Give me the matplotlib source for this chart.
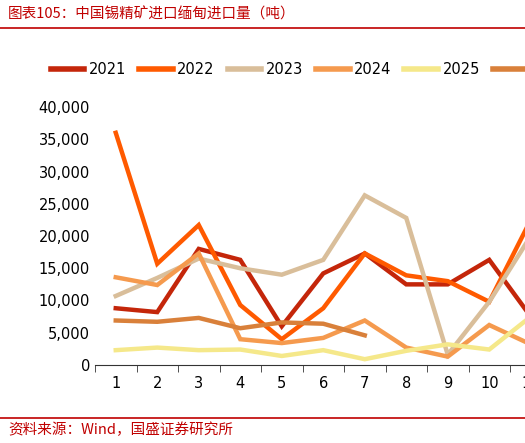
import matplotlib
matplotlib.use("Agg")
import matplotlib.pyplot as plt
from matplotlib.lines import Line2D
from matplotlib.ticker import FuncFormatter

plt.rcParams['font.family'] = ['DejaVu Sans', 'Noto Sans CJK SC']

months = list(range(1, 13))
s2021 = [8800, 8200, 18000, 16300, 6000, 14200, 17300, 12500, 12500, 16300, 7500]
s2022 = [36000, 15700, 21700, 9300, 4000, 8800, 17300, 13900, 13000, 9800, 22500]
s2023 = [10700, 13500, 16500, 15000, 14000, 16300, 26300, 22800, 1600, 9800, 20000]
s2024 = [13600, 12400, 17300, 4000, 3400, 4200, 6900, 2700, 1300, 6200, 3200]
s2025 = [2300, 2700, 2300, 2400, 1400, 2300, 900, 2200, 3200, 2400, 7500]
s2026 = [6900, 6700, 7300, 5700, 6600, 6400, 4600]
labels = ['2021', '2022', '2023', '2024', '2025', '2026']
series = [s2021, s2022, s2023, s2024, s2025, s2026]
colors = ['#C4260A', '#FF5A00', '#D9BE9A', '#F59A4E', '#F5E88A', '#D9803A']

W, H = 525, 443
fig = plt.figure(figsize=(W/100, H/100), dpi=100)
ax = fig.add_axes([95/W, (H-365)/H, 498/W, 258/H])
for s, c, l in zip(series, colors, labels):
    ax.plot(range(1, len(s)+1), s, color=c, lw=3.2, label=l, solid_joinstyle='miter')
ax.set_xlim(0.5, 12.5)
ax.set_ylim(0, 40000)
ax.set_yticks(range(0, 40001, 5000))
ax.yaxis.set_major_formatter(FuncFormatter(lambda v, p: f"{int(v):,}"))
ax.set_xticks(months)
ax.set_xticks([m + 0.5 for m in range(0, 13)], minor=True)
ax.tick_params(axis='x', which='major', length=0, pad=8, labelsize=10.5)
ax.tick_params(axis='x', which='minor', length=5, color='#333333')
ax.tick_params(axis='y', length=0, labelsize=10.5)
for sp in ['top', 'right', 'left']:
    ax.spines[sp].set_visible(False)
ax.spines['bottom'].set_color('#333333')

handles = [Line2D([0], [0], color=c, lw=4) for c in colors]
fig.legend(handles, labels, loc='center left', bbox_to_anchor=(45/W, 1 - 70/H),
           ncol=6, frameon=False, fontsize=10.5, handlelength=2.3, columnspacing=0.9,
           handletextpad=0.3, borderaxespad=0)

red = '#C00000'
fig.text(8/W, 1 - 14/H, '图表105：中国锡精矿进口缅甸进口量（吨）', color=red, fontsize=10.5,
         style='italic', va='center', family=['Noto Sans CJK SC', 'DejaVu Sans'])
fig.add_artist(Line2D([0, 1], [1 - 28/H, 1 - 28/H], color=red, lw=1.2))
fig.add_artist(Line2D([0, 1], [1 - 418/H, 1 - 418/H], color=red, lw=1.2))
fig.text(8/W, 1 - 430/H, '资料来源：Wind，国盛证券研究所', color=red, fontsize=10.5,
         style='italic', va='center', family=['Noto Sans CJK SC', 'DejaVu Sans'])
fig.savefig('out.png', dpi=100)
